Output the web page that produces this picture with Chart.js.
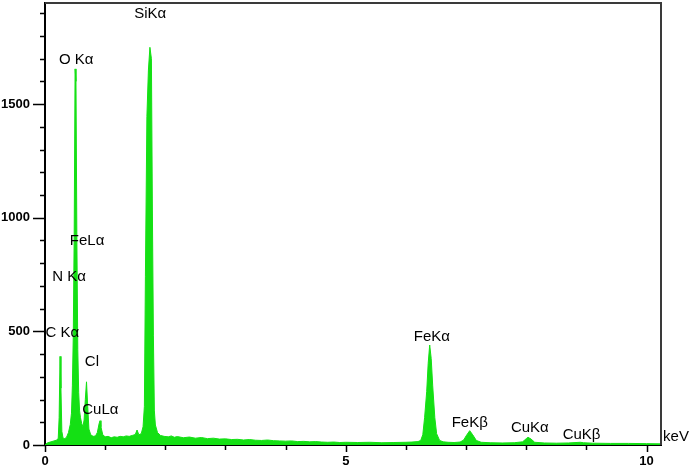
<!DOCTYPE html>
<html>
<head>
<meta charset="utf-8">
<script src="https://cdn.jsdelivr.net/npm/chart.js@4/dist/chart.umd.min.js"></script>
<style>
  html, body { margin: 0; padding: 0; background: #fff; }
</style>
</head>
<body>
<canvas id="myChart" width="692" height="470"></canvas>
<script>
// spectrum: energy (keV) and counts
const energy = [
    0.00, 0.02, 0.05, 0.10, 0.15, 0.20, 0.22, 0.235, 0.25, 0.265, 0.28, 0.30, 0.33, 0.36, 0.39,
    0.42, 0.44, 0.455, 0.47, 0.485, 0.50, 0.515, 0.53, 0.545, 0.56, 0.575, 0.59, 0.61, 0.63,
    0.65, 0.67, 0.69, 0.71, 0.73, 0.76, 0.80, 0.84, 0.87, 0.90, 0.915, 0.93, 0.96, 1.00, 1.05,
    1.10, 1.15, 1.20, 1.25, 1.30, 1.35, 1.40, 1.45, 1.50, 1.53, 1.56, 1.60, 1.63, 1.652, 1.669,
    1.694, 1.719, 1.744, 1.769, 1.785, 1.802, 1.818, 1.835, 1.87, 1.92, 1.98, 2.05, 2.10, 2.15,
    2.20, 2.30, 2.40, 2.50, 2.60, 2.70, 2.80, 2.90, 3.00, 3.10, 3.20, 3.30, 3.40, 3.50, 3.60,
    3.70, 3.80, 3.90, 4.00, 4.10, 4.20, 4.30, 4.40, 4.50, 4.60, 4.70, 4.80, 4.90, 5.00, 5.20,
    5.40, 5.60, 5.80, 6.00, 6.10, 6.20, 6.245, 6.28, 6.31, 6.345, 6.37, 6.395, 6.42, 6.445,
    6.48, 6.51, 6.56, 6.62, 6.70, 6.80, 6.90, 6.96, 7.00, 7.06, 7.11, 7.17, 7.25, 7.40, 7.60,
    7.80, 7.94, 8.00, 8.03, 8.08, 8.14, 8.30, 8.50, 8.70, 8.90, 8.95, 9.10, 9.40, 9.70, 10.00,
    10.24
]
const counts = [
    0, 6, 10, 14, 18, 22, 30, 120, 390, 250, 60, 30, 28, 35, 55,
    90, 140, 260, 480, 920, 1655, 1600, 900, 420, 230, 150, 120, 95, 80,
    110, 200, 278, 170, 70, 45, 38, 40, 55, 95, 107, 80, 45, 36, 38,
    32, 36, 34, 38, 36, 40, 38, 42, 46, 66, 45, 50, 80, 170, 740,
    1445, 1650, 1750, 1700, 1034, 480, 150, 88, 55, 42, 38, 36, 40, 34,
    37, 32, 35, 30, 33, 28, 30, 26, 27, 24, 25, 22, 24, 21, 20,
    22, 19, 18, 17, 18, 15, 16, 14, 15, 13, 12, 13, 11, 12, 11,
    12, 10, 11, 12, 13, 15, 20, 45, 120, 235, 360, 440, 380, 260,
    120, 50, 20, 14, 12, 11, 13, 22, 40, 63, 45, 20, 12, 10, 9,
    10, 14, 28, 34, 26, 12, 9, 8, 9, 12, 10, 8, 7, 7, 6,
    5
]

// peak labels (placed at keV / counts)
const peakNames = ['SiK\u03b1', 'O K\u03b1', 'FeL\u03b1', 'N K\u03b1', 'C K\u03b1', 'Cl', 'CuL\u03b1', 'FeK\u03b1', 'FeK\u03b2', 'CuK\u03b1', 'CuK\u03b2']
const peakKeV = [1.75, 0.52, 0.70, 0.40, 0.29, 0.78, 0.92, 6.43, 7.06, 8.06, 8.92]
const peakCounts = [1896, 1694, 898, 740, 493, 366, 154, 476, 98, 75, 44]

const xTickLabels = [0, 5, 10]
const yTickLabels = [0, 500, 1000, 1500]

const points = energy.map((e, i) => {
    return { x: e, y: counts[i] }
})

const decorations = {
    id: 'decorations',
    afterDraw(chart) {
        const { ctx, chartArea, scales } = chart
        ctx.save()

        // frame top and right
        ctx.strokeStyle = '#3a3a3a'
        ctx.lineWidth = 2
        ctx.beginPath()
        ctx.moveTo(chartArea.left, chartArea.top)
        ctx.lineTo(chartArea.right, chartArea.top)
        ctx.lineTo(chartArea.right, chartArea.bottom)
        ctx.stroke()

        // tick marks
        ctx.strokeStyle = '#000'
        ctx.lineWidth = 1.5
        ctx.beginPath()
        scales.y.ticks.forEach((t) => {
            const y = Math.round(scales.y.getPixelForValue(t.value)) + 0.5
            const len = t.value % 500 === 0 ? 12 : 5
            ctx.moveTo(chartArea.left - len, y)
            ctx.lineTo(chartArea.left, y)
        })
        scales.x.ticks.forEach((t) => {
            if (!Number.isInteger(t.value)) return
            const x = Math.round(scales.x.getPixelForValue(t.value)) + 0.5
            const len = t.value % 5 === 0 ? 7 : 5
            ctx.moveTo(x, chartArea.bottom)
            ctx.lineTo(x, chartArea.bottom + len)
        })
        ctx.stroke()

        // peak labels
        ctx.fillStyle = '#000'
        ctx.font = '15px "Liberation Sans", Arial, sans-serif'
        ctx.textAlign = 'center'
        ctx.textBaseline = 'middle'
        peakNames.forEach((name, i) => {
            ctx.fillText(name, scales.x.getPixelForValue(peakKeV[i]), scales.y.getPixelForValue(peakCounts[i]))
        })
        ctx.fillText('keV', chartArea.right + 15, chartArea.bottom - 8)

        ctx.restore()
    }
}

const tickFont = { family: '"Liberation Sans", Arial, sans-serif', size: 13, weight: 'bold' }

const ctx = document.getElementById('myChart').getContext('2d')
const chart = new Chart(ctx, {
    type: 'line',
    data: {
        datasets: [{
            data: points,
            borderColor: 'rgb(20, 224, 20)',
            backgroundColor: 'rgb(20, 224, 20)',
            borderWidth: 1,
            pointRadius: 0,
            fill: 'origin',
            tension: 0
        }]
    },
    options: {
        responsive: false,
        animation: false,
        layout: { padding: { top: 3, right: 31, left: 0, bottom: 0 } },
        plugins: { legend: { display: false }, tooltip: { enabled: false } },
        scales: {
            x: {
                type: 'linear',
                min: 0,
                max: 10.24,
                afterFit: (scale) => {
                    scale.height = 25
                    scale.paddingLeft = 0
                    scale.paddingRight = 0
                },
                grid: { display: true, drawOnChartArea: false, drawTicks: false },
                border: { display: true, color: '#000', width: 2 },
                ticks: {
                    stepSize: 1,
                    includeBounds: false,
                    autoSkip: false,
                    maxRotation: 0,
                    padding: 9,
                    color: '#000',
                    font: tickFont,
                    callback: (v) => xTickLabels.includes(v) ? String(v) : ''
                }
            },
            y: {
                min: 0,
                max: 1945,
                afterFit: (scale) => {
                    scale.width = 45
                    scale.paddingTop = 0
                    scale.paddingBottom = 0
                },
                grid: { display: true, drawOnChartArea: false, drawTicks: false },
                border: { display: true, color: '#000', width: 2 },
                ticks: {
                    stepSize: 100,
                    includeBounds: false,
                    autoSkip: false,
                    padding: 15,
                    color: '#000',
                    font: tickFont,
                    callback: (v) => yTickLabels.includes(v) ? String(v) : ''
                }
            }
        }
    },
    plugins: [decorations]
})
</script>
</body>
</html>
